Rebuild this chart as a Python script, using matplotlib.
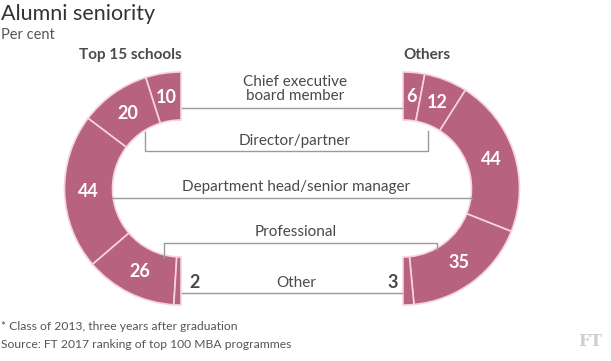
import matplotlib
matplotlib.use("Agg")
import matplotlib.pyplot as plt
import numpy as np

plt.rcParams['font.family'] = ['Lato', 'DejaVu Sans']

# ---- data ----
categories = ["Chief executive\nboard member", "Director/partner",
              "Department head/senior manager", "Professional", "Other"]
top15 = [10, 20, 44, 26, 2]
others = [6, 12, 44, 35, 3]
group_labels = ["Top 15 schools", "Others"]

W, H = 611, 361
fig = plt.figure(figsize=(W / 100, H / 100), dpi=100)
ax = fig.add_axes([0, 0, 1, 1])
ax.set_xlim(0, W)
ax.set_ylim(0, H)
ax.set_aspect('equal')
ax.axis('off')
fig.patch.set_facecolor('white')

def Y(py):
    return H - py

SEG = '#b7637f'
SEP = '#f6d3df'
TXT = '#4a4a4a'
LINE = '#9a9a9a'

R_OUT = 116.5
R_W = 48
cy = 188.5
centers = [(181, cy), (403, cy)]

def half_donut(vals, center, counterclock):
    total = sum(vals)
    data = list(vals) + [total]
    wedges, _ = ax.pie(data, startangle=90, counterclock=counterclock,
                       center=(center[0], Y(center[1])), radius=R_OUT,
                       wedgeprops=dict(width=R_W, edgecolor=SEP, linewidth=1.2),
                       colors=[SEG] * len(vals) + ['none'], frame=True)
    wedges[-1].set_visible(False)
    rmid = R_OUT - R_W / 2
    cum = 0
    for i, v in enumerate(vals):
        mid = (cum + v / 2) / total * 180
        cum += v
        if i == len(vals) - 1:
            continue
        sgn = -1 if counterclock else 1
        x = center[0] + sgn * rmid * np.sin(np.radians(mid))
        y = center[1] - rmid * np.cos(np.radians(mid))
        ax.text(x, Y(y), str(v), color='white', fontsize=13, fontweight='bold',
                ha='center', va='center')

half_donut(top15, centers[0], True)
half_donut(others, centers[1], False)
ax.set_xlim(0, W)
ax.set_ylim(0, H)
ax.axis('off')

# "Other" values outside
ax.text(189, Y(282), str(top15[-1]), color=TXT, fontsize=13, fontweight='bold',
        ha='left', va='center')
ax.text(398, Y(282), str(others[-1]), color=TXT, fontsize=13, fontweight='bold',
        ha='right', va='center')

lw = 1.0
FS = 11
ax.plot([182, 402], [Y(108), Y(108)], color=LINE, lw=lw)
ax.text(295, Y(89), categories[0], color=TXT, fontsize=FS, ha='center',
        va='center', linespacing=1.05)
ax.plot([145, 145, 428, 428], [Y(132), Y(151), Y(151), Y(131)], color=LINE, lw=lw)
ax.text(295, Y(141), categories[1], color=TXT, fontsize=FS, ha='center', va='center')
ax.plot([112, 472], [Y(198), Y(198)], color=LINE, lw=lw)
ax.text(296, Y(187), categories[2], color=TXT, fontsize=FS, ha='center', va='center')
ax.plot([164, 164, 437, 437], [Y(258), Y(243), Y(243), Y(250)], color=LINE, lw=lw)
ax.text(296, Y(232), categories[3], color=TXT, fontsize=FS, ha='center', va='center')
ax.plot([182, 402], [Y(293), Y(293)], color=LINE, lw=lw)
ax.text(296, Y(283), categories[4], color=TXT, fontsize=FS, ha='center', va='center')

ax.text(130, Y(55), group_labels[0], color=TXT, fontsize=11, fontweight='bold',
        ha='center', va='center')
ax.text(427, Y(55), group_labels[1], color=TXT, fontsize=11, fontweight='bold',
        ha='center', va='center')

ax.text(1, Y(14), "Alumni seniority", color='#333333', fontsize=15.5, ha='left', va='center')
ax.text(1, Y(35), "Per cent", color='#555555', fontsize=10.5, ha='left', va='center')

ax.text(1, Y(327), "* Class of 2013, three years after graduation", color='#555555',
        fontsize=8.7, ha='left', va='center')
ax.text(1, Y(345), "Source: FT 2017 ranking of top 100 MBA programmes", color='#555555',
        fontsize=8.7, ha='left', va='center')
ax.text(590, Y(342), "FT", color='#cfcfcf', fontsize=12, fontfamily='DejaVu Serif',
        fontweight='bold', ha='center', va='center')

fig.savefig('out.png', dpi=100, facecolor='white')
